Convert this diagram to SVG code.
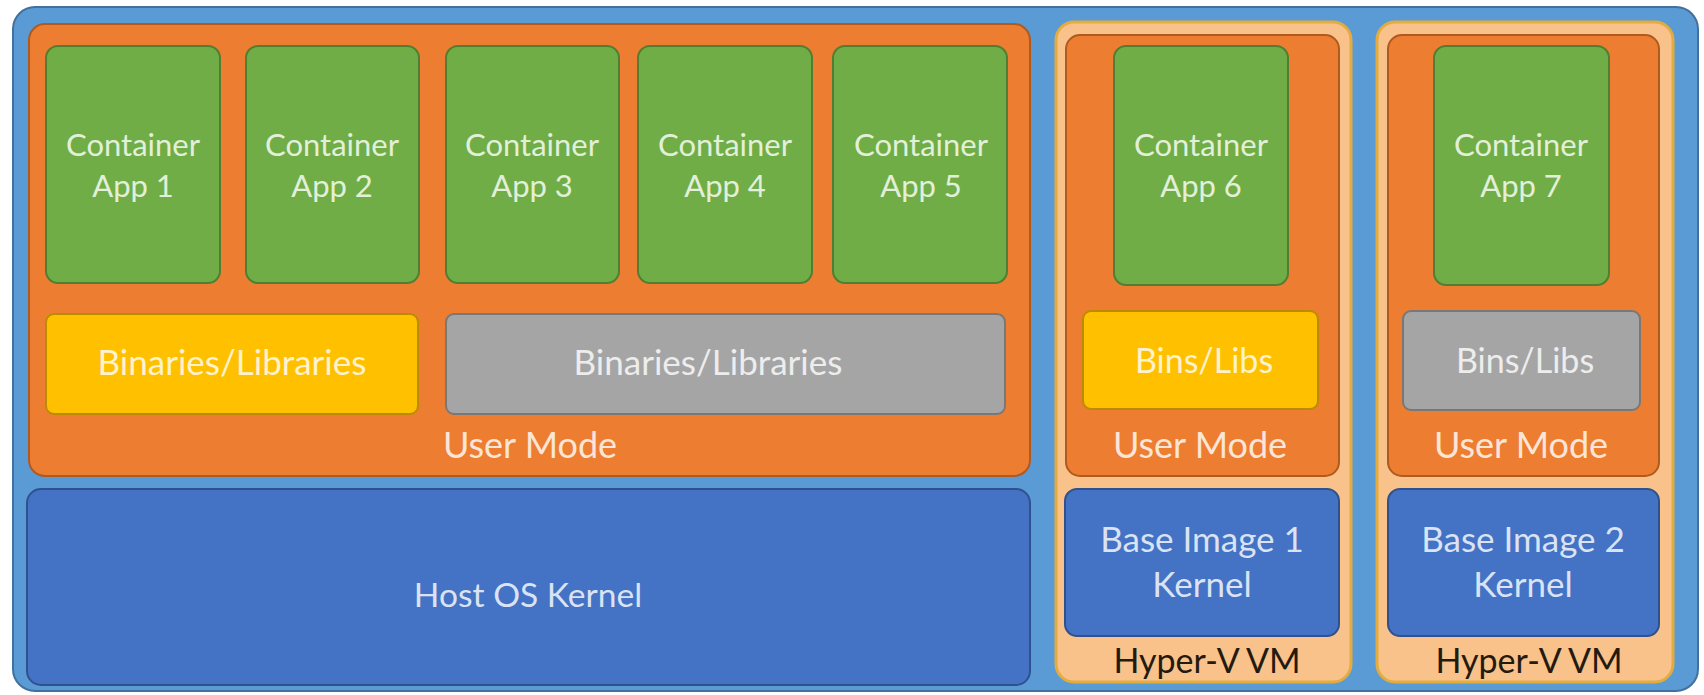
<svg xmlns="http://www.w3.org/2000/svg" width="1704" height="695" viewBox="0 0 1704 695">
<style>
text{font-family:Lato,"Open Sans","Liberation Sans",sans-serif;font-size:31px;text-anchor:middle}
.bg{fill:#5B9BD5;stroke:#41719C;stroke-width:2}
.um{fill:#ED7D31;stroke:#AE5A21;stroke-width:2}
.app{fill:#70AD47;stroke:#507E32;stroke-width:2}
.yl{fill:#FFC000;stroke:#BC8C00;stroke-width:2}
.gr{fill:#A5A5A5;stroke:#787878;stroke-width:2}
.kn{fill:#4472C4;stroke:#2F528F;stroke-width:2}
.vm{fill:#F9C28A;stroke:#E2AC3F;stroke-width:3}
.ta{fill:#E2F0D9}
.ty{fill:#FFF2CC;font-size:35px}
.tg{fill:#EDEDED;font-size:35px}
.tb{font-size:34px}
.tu{fill:#FBE5D6;font-size:36px}
.tk{fill:#DAE3F3;font-size:35px}
.th{fill:#DAE3F3;font-size:33.6px}
.tv{fill:#231A10;font-size:34px}
</style>
<rect x="0" y="0" width="1704" height="695" fill="#FFFFFF"/>
<g id="host">
<rect class="bg" x="13" y="7" width="1685" height="684" rx="22"/>
</g>
<g id="user-mode">
<rect class="um" x="29" y="24" width="1001" height="452" rx="16"/>
<text class="tu" x="530" y="458">User Mode</text>
</g>
<g id="app1"><rect class="app" x="46" y="46" width="174" height="237" rx="12"/><text class="ta" x="133" y="156">Container</text><text class="ta" x="133" y="197">App 1</text></g>
<g id="app2"><rect class="app" x="246" y="46" width="173" height="237" rx="12"/><text class="ta" x="332" y="156">Container</text><text class="ta" x="332" y="197">App 2</text></g>
<g id="app3"><rect class="app" x="446" y="46" width="173" height="237" rx="12"/><text class="ta" x="532" y="156">Container</text><text class="ta" x="532" y="197">App 3</text></g>
<g id="app4"><rect class="app" x="638" y="46" width="174" height="237" rx="12"/><text class="ta" x="725" y="156">Container</text><text class="ta" x="725" y="197">App 4</text></g>
<g id="app5"><rect class="app" x="833" y="46" width="174" height="237" rx="12"/><text class="ta" x="921" y="156">Container</text><text class="ta" x="921" y="197">App 5</text></g>
<g id="bins-yellow"><rect class="yl" x="46" y="314" width="372" height="100" rx="8"/><text class="ty" x="232" y="375">Binaries/Libraries</text></g>
<g id="bins-gray"><rect class="gr" x="446" y="314" width="559" height="100" rx="8"/><text class="tg" x="708" y="375">Binaries/Libraries</text></g>
<g id="host-kernel"><rect class="kn" x="27" y="489" width="1003" height="196" rx="14"/><text class="th" x="528" y="607">Host OS Kernel</text></g>
<g id="vm1">
<rect class="vm" x="1056" y="22" width="295" height="660" rx="18"/>
<text class="tv" x="1207" y="673">Hyper-V VM</text>
</g>
<g id="vm1-user"><rect class="um" x="1066" y="35" width="273" height="441" rx="14"/><text class="tu" x="1200" y="458">User Mode</text></g>
<g id="app6"><rect class="app" x="1114" y="46" width="174" height="239" rx="12"/><text class="ta" x="1201" y="156">Container</text><text class="ta" x="1201" y="197">App 6</text></g>
<g id="bins6"><rect class="yl" x="1083" y="311" width="235" height="98" rx="8"/><text class="ty tb" x="1204" y="373">Bins/Libs</text></g>
<g id="kernel1"><rect class="kn" x="1065" y="489" width="274" height="147" rx="12"/><text class="tk" x="1202" y="552">Base Image 1</text><text class="tk" x="1202" y="597">Kernel</text></g>
<g id="vm2">
<rect class="vm" x="1377" y="22" width="296" height="660" rx="18"/>
<text class="tv" x="1529" y="673">Hyper-V VM</text>
</g>
<g id="vm2-user"><rect class="um" x="1388" y="35" width="271" height="441" rx="14"/><text class="tu" x="1521" y="458">User Mode</text></g>
<g id="app7"><rect class="app" x="1434" y="46" width="175" height="239" rx="12"/><text class="ta" x="1521" y="156">Container</text><text class="ta" x="1521" y="197">App 7</text></g>
<g id="bins7"><rect class="gr" x="1403" y="311" width="237" height="99" rx="8"/><text class="tg tb" x="1525" y="373">Bins/Libs</text></g>
<g id="kernel2"><rect class="kn" x="1388" y="489" width="271" height="147" rx="12"/><text class="tk" x="1523" y="552">Base Image 2</text><text class="tk" x="1523" y="597">Kernel</text></g>
<g id="connectors"></g>
</svg>
